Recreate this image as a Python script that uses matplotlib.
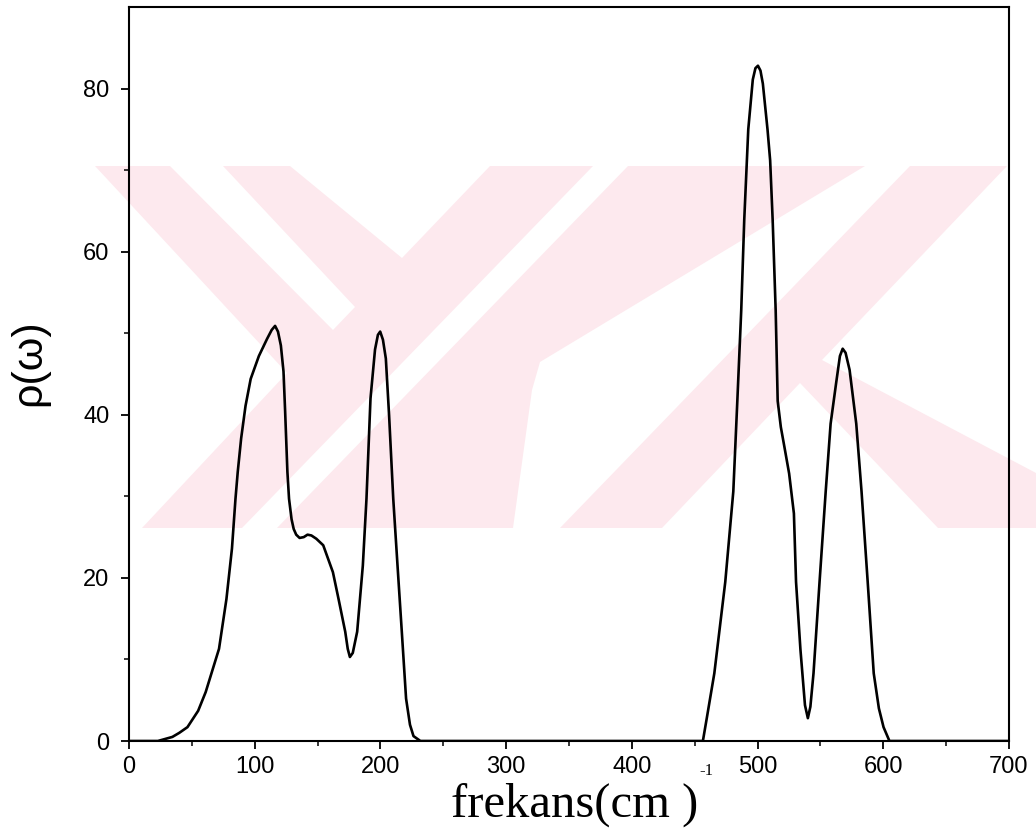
import numpy as np
import matplotlib
matplotlib.use('Agg')
from matplotlib import pyplot as plt
from matplotlib.patches import Polygon
from matplotlib.ticker import FixedLocator

# фононная плотность состояний
freq = [0, 23, 34.5, 40, 46.5, 55, 61, 71.6, 77.5, 81.9, 84.7, 86.5, 89.2, 92.7,
        96.8, 103.3, 109.8, 113.5, 116.2, 118.5, 120.8, 122.9, 124.2, 126, 127.3,
        129.3, 131, 133, 135.7, 139, 142, 145.1, 149, 154.5, 158, 162.2, 166.7,
        172, 174, 175.7, 178, 181.5, 186, 188.9, 192.1, 195.7, 198, 199.8, 202,
        204.3, 206.9, 210.2, 213.6, 217, 220.4, 223.5, 226.3, 231.8,
        456.5, 459.6, 465.6, 474.3, 480.7, 483.9, 487, 489.4, 492.6, 496.2,
        498.3, 500.3, 502.3, 504.2, 507.9, 510, 512, 514.4, 516, 518.5, 521.3,
        525.1, 528.9, 530.6, 534.1, 537.7, 540, 542, 544.5, 549.3, 554.2, 558.1,
        562.5, 565.5, 567.7, 570, 573.2, 578.5, 582.7, 587.6, 592.4, 596.5,
        600.2, 604.9, 700]
rho = [0, 0, 0.5, 1.0, 1.7, 3.7, 6.0, 11.3, 17.4, 23.6, 29.7, 33, 37.1, 41.1,
       44.4, 47.2, 49.3, 50.4, 50.9, 50.2, 48.5, 45.3, 40.4, 33, 29.7,
       27.2, 26, 25.3, 24.9, 25, 25.3, 25.2, 24.8, 24, 22.5, 20.7, 17.4,
       13.4, 11.3, 10.3, 10.8, 13.4, 21.5, 29.7, 42, 48, 49.8, 50.2, 49.2,
       46.9, 39.9, 29.7, 21.5, 13.4, 5.2, 2.0, 0.6, 0,
       0, 2.8, 8.3, 19.5, 30.6, 41.7, 52.8, 63.9, 75, 81.1,
       82.5, 82.8, 82.2, 80.6, 75, 71.2, 63.9, 52.8, 41.7, 38.5, 36.1,
       32.8, 27.9, 19.5, 11.2, 4.4, 2.8, 4.2, 8.3, 19.5, 30.6, 38.9,
       43.9, 47.2, 48.1, 47.6, 45.5, 38.9, 30.6, 19.5, 8.3, 4.0,
       1.7, 0, 0]

xticks = [0, 100, 200, 300, 400, 500, 600, 700]
yticks = [0, 20, 40, 60, 80]

W, H = 1036, 838
fig = plt.figure(figsize=(W / 100, H / 100), dpi=100)
fig.patch.set_facecolor('white')


def to_fig(points):
    # пиксели картинки -> доли фигуры
    return [(x / W, 1 - y / H) for x, y in points]


# розовый водяной знак на фоне
pink_parts = [
    [(95, 166), (1007, 166), (822, 360), (1036, 473), (1036, 528), (938, 528),
     (800, 383), (662, 528), (142, 528), (287, 373)],
]
white_parts = [
    [(170, 166), (223, 166), (355, 307), (333, 330)],
    [(290, 166), (490, 166), (402, 258)],
    [(242, 528), (277, 528), (628, 166), (593, 166)],
    [(513, 528), (560, 528), (910, 166), (865, 166), (540, 362), (532, 390)],
]
for pts in pink_parts:
    fig.add_artist(Polygon(to_fig(pts), closed=True, transform=fig.transFigure,
                           fc='#fde9ee', ec='none', zorder=-2))
for pts in white_parts:
    fig.add_artist(Polygon(to_fig(pts), closed=True, transform=fig.transFigure,
                           fc='white', ec='none', zorder=-1))

ax = fig.add_axes([129 / W, 1 - 741 / H, 880 / W, 734 / H])
ax.set_facecolor('none')
ax.plot(freq, rho, color='black', lw=1.9, solid_joinstyle='round')

ax.set_xlim(0, 700)
ax.set_ylim(0, 90)
ax.set_xticks(xticks)
ax.set_yticks(yticks)
ax.xaxis.set_minor_locator(FixedLocator([50, 150, 250, 350, 450, 550, 650]))
ax.yaxis.set_minor_locator(FixedLocator([10, 30, 50, 70]))
ax.tick_params(which='major', direction='out', length=6, width=1.3,
               labelsize=17, top=False, right=False)
ax.tick_params(axis='x', which='major', pad=5)
ax.tick_params(axis='y', which='major', pad=8)
ax.tick_params(which='minor', direction='out', length=3.5, width=1.1,
               top=False, right=False)
for lab in ax.get_xticklabels() + ax.get_yticklabels():
    lab.set_family('Liberation Sans')
for s in ax.spines.values():
    s.set_linewidth(1.5)

fig.text(29 / W, 1 - 363 / H, 'ρ(ω)', rotation=90, fontsize=31,
         family='Liberation Sans', ha='center', va='center')
fig.text(575 / W, 1 - 805 / H, 'frekans(cm )', fontsize=35,
         family='Liberation Serif', ha='center', va='center')
fig.text(699 / W, 1 - 771 / H, '-1', fontsize=12,
         family='Liberation Serif', ha='left', va='center')

fig.savefig('out.png', dpi=100, facecolor='white')
